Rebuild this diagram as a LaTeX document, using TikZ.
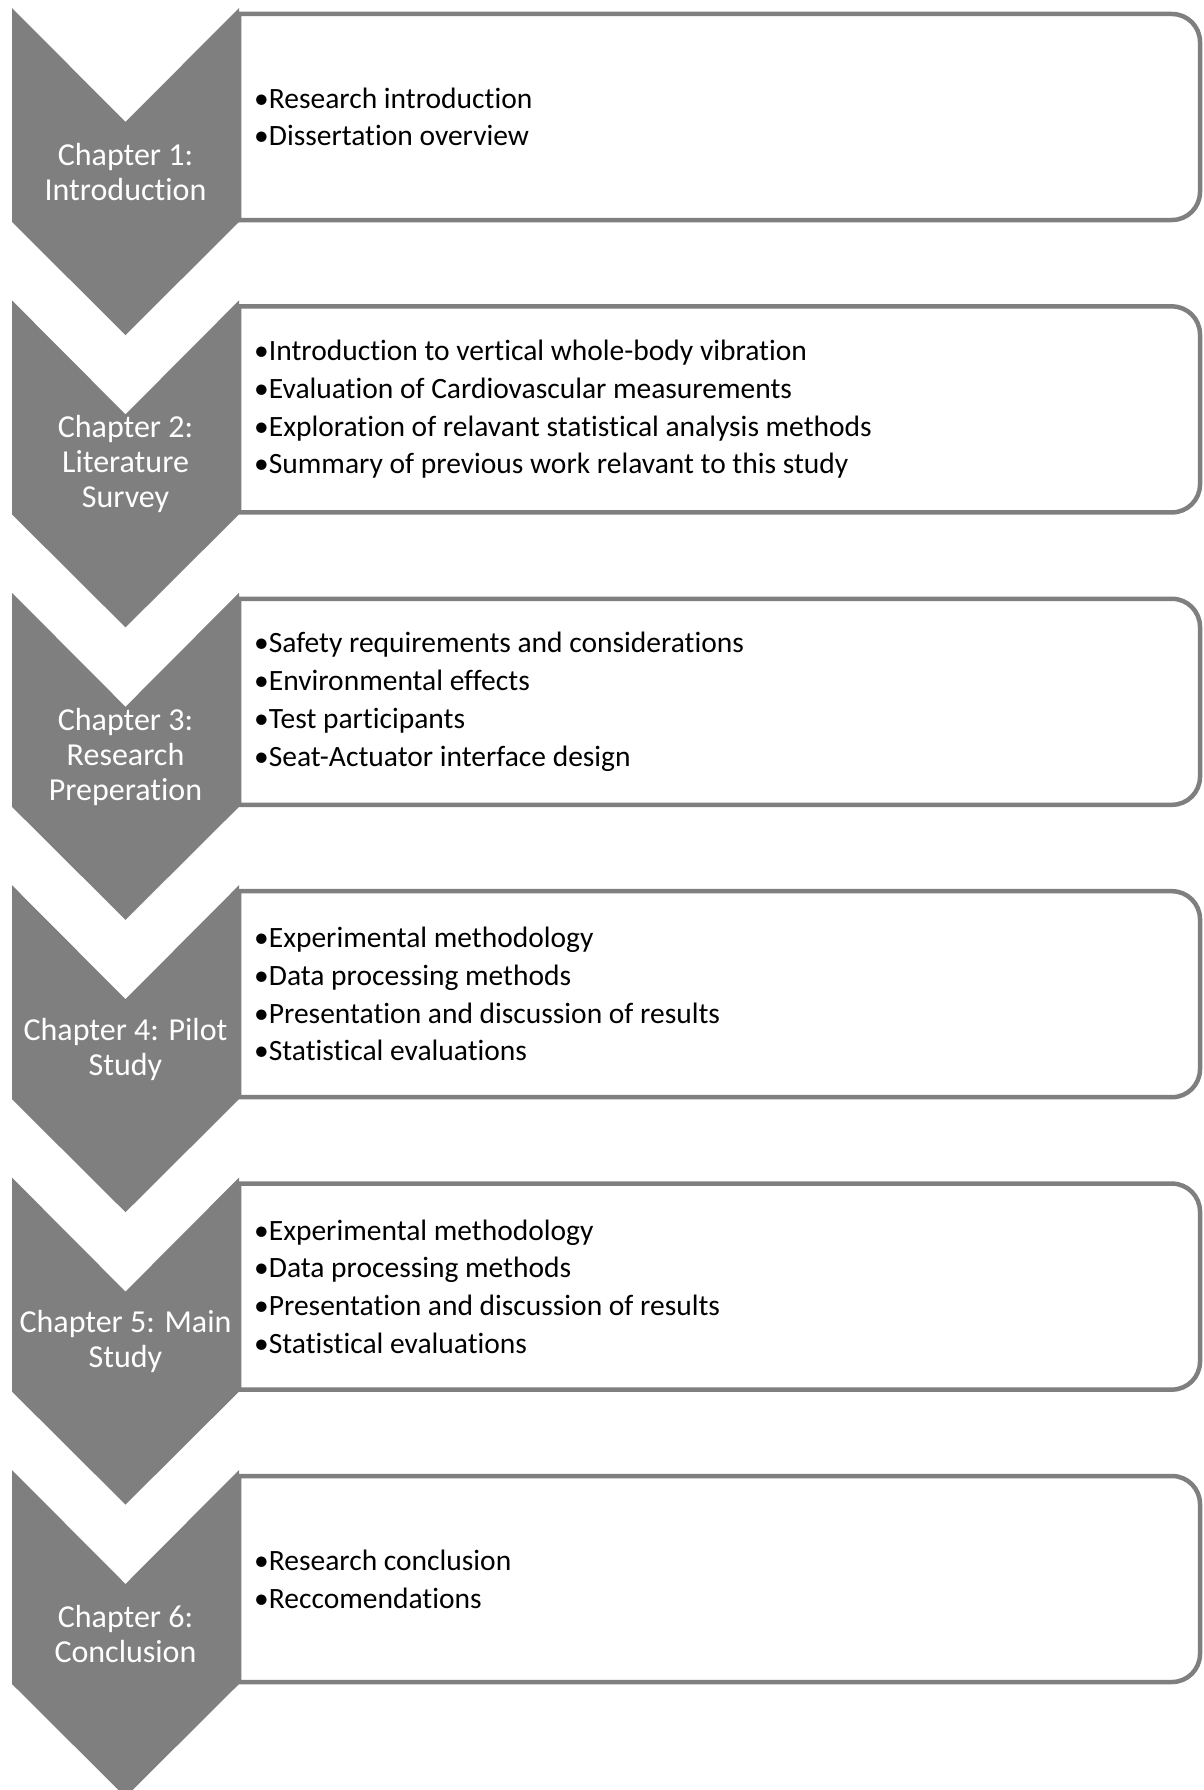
\documentclass[tikz,border=0pt]{standalone}
\usepackage{fontspec}
\setmainfont{Carlito}[Ligatures=NoCommon]
\usepackage{tikz}
\definecolor{chevgray}{RGB}{127,127,127}
\tikzset{
    Chevron/.style = {fill=chevgray},
    Outline/.style = {draw=chevgray,line width=4.5pt,fill=white},
    ChapText/.style = {text=white,align=center,inner sep=0pt,
        font=\fontsize{32}{35}\selectfont},
    ItemText/.style = {anchor=west,align=left,inner sep=0pt,
        font=\fontsize{29.5}{37.7}\selectfont}
}
\begin{document}
\begin{tikzpicture}[x=1pt,y=1pt]
  \useasboundingbox (0,0) rectangle (1203,-1790);
  \clip (0,0) rectangle (1203,-1790);
  \foreach \i/\C/\T in {
      1/{Chapter 1:\\Introduction}/{•Research introduction\\•Dissertation overview},
      2/{Chapter 2:\\Literature\\Survey}/{•Introduction to vertical whole-body vibration\\•Evaluation of Cardiovascular measurements\\•Exploration of relavant statistical analysis methods\\•Summary of previous work relavant to this study},
      3/{Chapter 3:\\Research\\Preperation}/{•Safety requirements and considerations\\•Environmental effects\\•Test participants\\•Seat-Actuator interface design},
      4/{Chapter 4: Pilot\\Study}/{•Experimental methodology\\•Data processing methods\\•Presentation and discussion of results\\•Statistical evaluations},
      5/{Chapter 5: Main\\Study}/{•Experimental methodology\\•Data processing methods\\•Presentation and discussion of results\\•Statistical evaluations},
      6/{Chapter 6:\\Conclusion}/{•Research conclusion\\•Reccomendations}}
    {\pgfmathsetmacro{\Y}{-8-292.4*(\i-1)}
     \draw[Outline] (239,\Y-6) -- (1172,\Y-6) arc[start angle=90,end angle=0,radius=28pt]
        -- (1200,\Y-184) arc[start angle=0,end angle=-90,radius=28pt] -- (239,\Y-212) -- cycle;
     \fill[Chevron] (12,\Y) -- (125.5,\Y-114) -- (239,\Y) -- (239,\Y-214)
        -- (125.5,\Y-327) -- (12,\Y-214) -- cycle;
     \node[ChapText] (chap\i) at (125.5,\Y-164) {\C};
     \node[ItemText] (items\i) at (254,\Y-109) {\T};}
\end{tikzpicture}
\end{document}
